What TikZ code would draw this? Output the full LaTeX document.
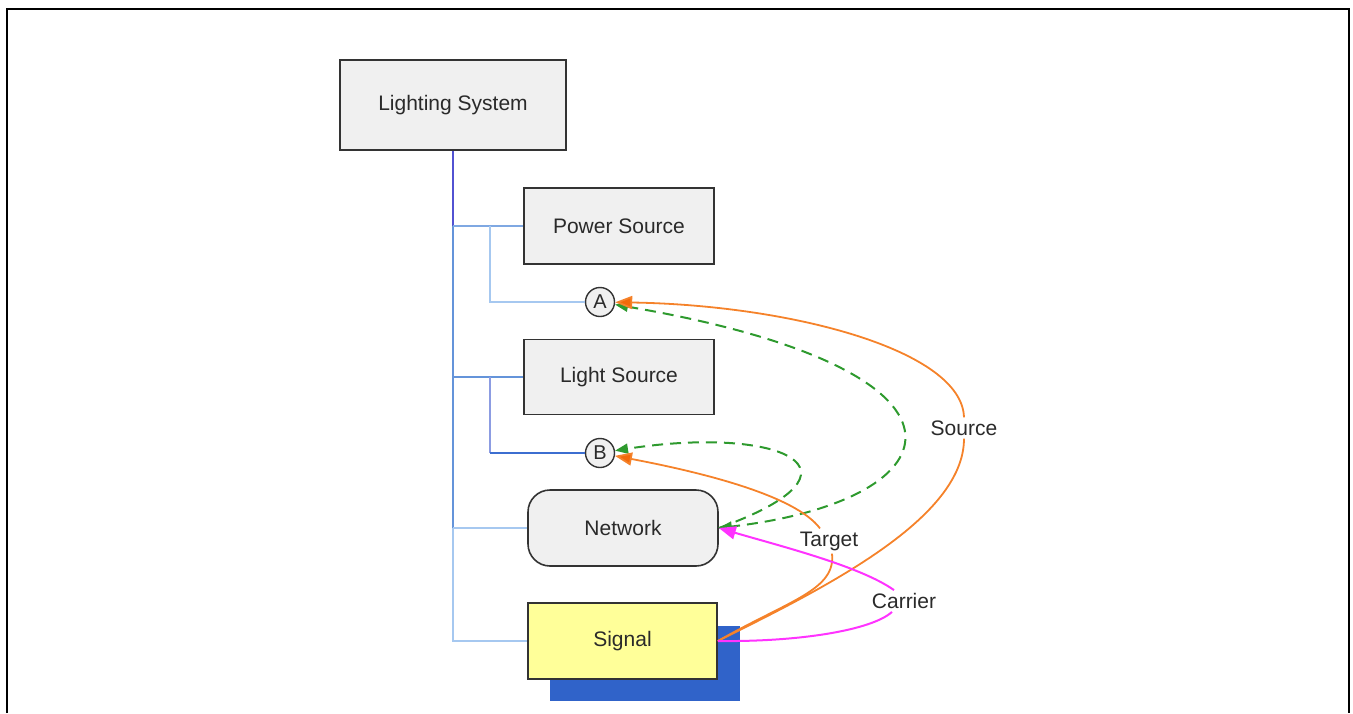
\documentclass[tikz,border=0pt]{standalone}
\usepackage{fontspec}
\setmainfont{Liberation Sans}
\usetikzlibrary{arrows.meta}

\definecolor{boxfill}{HTML}{F0F0F0}
\definecolor{boxline}{HTML}{333333}
\definecolor{txt}{HTML}{2A2A2A}
\definecolor{trunkA}{HTML}{5252D2}
\definecolor{trunkB}{HTML}{6494DA}
\definecolor{treeLight}{HTML}{A6C8F0}
\definecolor{treeMid}{HTML}{7FA8E2}
\definecolor{treeDark}{HTML}{3C6ED0}
\definecolor{treeLilac}{HTML}{8C9CE2}
\definecolor{sigfill}{HTML}{FFFF99}
\definecolor{sigshadow}{HTML}{3063C9}
\definecolor{orangeC}{HTML}{F5822A}
\definecolor{orangeTip}{HTML}{F26A0A}
\definecolor{greenC}{HTML}{2E9A2E}
\definecolor{magentaC}{HTML}{FF33FF}

\tikzset{
  box/.style={draw=boxline, line width=1.6pt, fill=boxfill, rectangle,
    inner sep=0pt, text=txt, font=\fontsize{21}{25}\selectfont},
  roundbox/.style={box, rounded corners=22pt},
  sigbox/.style={box, fill=sigfill},
  refpt/.style={draw=boxline, line width=1.4pt, fill=boxfill, circle,
    minimum size=29pt, inner sep=0pt, text=txt, font=\fontsize{20}{22}\selectfont},
  lbl/.style={text=txt, inner sep=3pt, font=\fontsize{21}{25}\selectfont},
  tree/.style={line width=2.2pt},
  orangeline/.style={draw=orangeC, line width=1.8pt},
  orangearrow/.style={orangeline, -{Triangle[length=17pt,width=13pt,fill=orangeTip]}},
  magline/.style={draw=magentaC, line width=2pt},
  magarrow/.style={magline, -{Triangle[length=17pt,width=13pt]}},
  greendash/.style={draw=greenC, line width=2pt, dash pattern=on 11pt off 7pt},
  greenboth/.style={greendash, {Triangle[length=13pt,width=10pt]}-{Triangle[length=13pt,width=10pt]}},
  greenend/.style={greendash, -{Triangle[length=13pt,width=10pt]}},
}

\begin{document}
\begin{tikzpicture}[x=1pt, y=-1pt]
  \useasboundingbox (0,0) rectangle (1353,713);

  % outer frame, open at the bottom
  \draw[line width=2pt] (7,713) -- (7,9) -- (1349,9) -- (1349,713);

  % boxes
  \node[box, minimum width=226pt, minimum height=90pt] (ls) at (453,105) {Lighting System};
  \node[box, minimum width=190pt, minimum height=76pt] (ps) at (619,226) {Power Source};
  \node[box, minimum width=190pt, minimum height=75pt] (lsrc) at (619,377) {Light Source};
  \node[refpt] (A) at (600,302) {A};
  \node[refpt] (B) at (600,453) {B};
  \node[roundbox, minimum width=190pt, minimum height=76pt] (net) at (623,528) {Network};
  \fill[sigshadow] (550,626) rectangle (740,701);
  \node[sigbox, minimum width=189pt, minimum height=76pt] (sig) at (622.5,641) {Signal};

  % tree connectors
  \coordinate (jps) at (ls.south |- ps.west);
  \coordinate (jls) at (ls.south |- lsrc.west);
  \coordinate (jnet) at (ls.south |- net.west);
  \coordinate (jsig) at (ls.south |- sig.west);
  \coordinate (sa) at (490,226);
  \coordinate (sb) at (490,377);
  \draw[tree, trunkA] (ls.south) -- (jps);
  \draw[tree, trunkB] (jps) -- (jnet);
  \draw[tree, treeLight] (jnet) -- (jsig) -- (sig.west);
  \draw[tree, treeMid] (jps) -- (ps.west);
  \draw[tree, treeLight] (sa) -- (sa |- A.west) -- (A.west);
  \draw[tree, trunkB] (jls) -- (lsrc.west);
  \draw[tree, treeLilac] (sb) -- (sb |- B.west);
  \draw[tree, treeDark] (sb |- B.west) -- (B.west);
  \draw[tree, treeLight] (jnet) -- (net.west);

  % labels
  \node[lbl] (src) at (964,428) {Source};
  \node[lbl] (tgt) at (829,541) {Target};
  \node[lbl] (car) at (904,601) {Carrier};

  % dashed relations
  \draw[greenboth] (A) .. controls (1000,370) and (960,500) .. (net.east);
  \draw[greenend] (net.east) .. controls (880,470) and (780,425) .. (B);

  % source relation
  \draw[orangeline] (sig.east) .. controls (820,590) and (964,520) .. (src.south);
  \draw[orangearrow] (src.north) .. controls (962,350) and (790,305) .. (A);

  % target relation
  \draw[orangeline] (sig.east) .. controls (790,600) and (836,590) .. ([xshift=3pt]tgt.south);
  \draw[orangearrow] ([xshift=-9pt]tgt.north) .. controls (795,495) and (700,472) .. (B);

  % carrier relation
  \draw[magline] (sig.east) .. controls (800,642) and (872,630) .. ([xshift=-12pt]car.south);
  \draw[magarrow] ([xshift=-10pt]car.north) .. controls (860,566) and (780,546) .. (net.east);
\end{tikzpicture}
\end{document}
